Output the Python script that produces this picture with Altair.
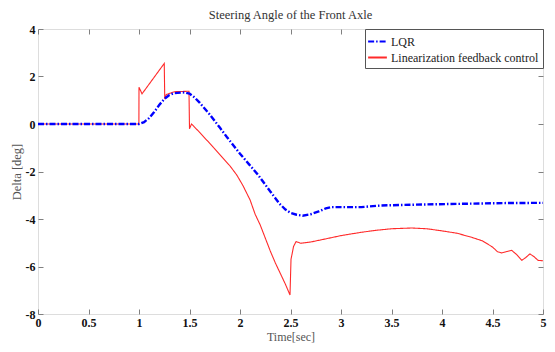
import altair as alt
import pandas as pd

# ---- data ----
series_names = ["LQR", "Linearization feedback control"]

lqr_t = [0, 1.0, 1.05, 1.1, 1.15, 1.2, 1.25, 1.3, 1.35, 1.45, 1.5, 1.55, 1.6, 1.7, 1.8, 1.87,
         2.0, 2.09, 2.18, 2.3, 2.39, 2.45, 2.5, 2.56, 2.62, 2.7, 2.78, 2.85, 2.9, 3.0, 3.2,
         3.4, 3.8, 4.2, 4.6, 5.0]
lqr_v = [0, 0, 0.08, 0.25, 0.5, 0.8, 1.05, 1.22, 1.3, 1.33, 1.28, 1.12, 0.9, 0.4, -0.15, -0.55,
         -1.25, -1.7, -2.15, -2.84, -3.35, -3.6, -3.74, -3.82, -3.86, -3.8, -3.68, -3.55, -3.5,
         -3.5, -3.5, -3.43, -3.39, -3.36, -3.33, -3.32]

lfc_t = [0, 0.999, 1.0, 1.03, 1.25, 1.255, 1.27, 1.35, 1.495, 1.5, 1.52, 1.6, 1.74, 1.9, 1.97,
         2.03, 2.1, 2.15, 2.2, 2.25, 2.3, 2.35, 2.4, 2.45, 2.495, 2.505, 2.53, 2.555, 2.6, 2.7,
         2.8, 3.0, 3.2, 3.34, 3.5, 3.7, 3.85, 4.0, 4.15, 4.3, 4.4, 4.5, 4.55, 4.59, 4.64, 4.69,
         4.74, 4.79, 4.83, 4.87, 4.91, 4.95, 5.0]
lfc_v = [0, 0, 1.55, 1.27, 2.55, 1.05, 1.24, 1.36, 1.38, -0.2, 0.0, -0.35, -1.0, -1.76, -2.16,
         -2.6, -3.2, -3.8, -4.25, -4.8, -5.35, -5.85, -6.3, -6.75, -7.2, -5.7, -5.16, -4.95,
         -5.02, -4.97, -4.88, -4.7, -4.56, -4.48, -4.41, -4.38, -4.41, -4.5, -4.6, -4.78, -4.92,
         -5.18, -5.38, -5.43, -5.37, -5.32, -5.5, -5.74, -5.62, -5.47, -5.58, -5.74, -5.76]

x_ticks = [0, 0.5, 1, 1.5, 2, 2.5, 3, 3.5, 4, 4.5, 5]
y_ticks = [-8, -6, -4, -2, 0, 2, 4]

df_lqr = pd.DataFrame({"t": lqr_t, "v": lqr_v, "series": series_names[0], "i": range(len(lqr_t))})
df_lfc = pd.DataFrame({"t": lfc_t, "v": lfc_v, "series": series_names[1], "i": range(len(lfc_t))})

FONT = "Liberation Serif"
GRAY = "#808080"

x_scale = alt.Scale(domain=[0, 5], nice=False, zero=False)
y_scale = alt.Scale(domain=[-8, 4], nice=False, zero=False)
color_scale = alt.Scale(domain=series_names, range=["#0000ff", "#ff2a2a"])
dash_scale = alt.Scale(domain=series_names, range=[[6, 2, 1.5, 2], [1, 0]])

legend = alt.Legend(title=None, orient="top-right", offset=0, symbolType="M-1.25,0H1.25",
                    symbolSize=225, symbolStrokeWidth=1.8, labelFont=FONT, labelFontSize=12,
                    labelColor="#222", labelOffset=5, padding=4, rowPadding=1,
                    strokeColor="#555", fillColor="white")

common_axis = dict(offset=-5, tickSize=5, domain=False, grid=False, tickColor=GRAY,
                   tickWidth=1, labelOverlap=False, labelFlush=False)

bottom_axis = alt.Axis(orient="bottom", values=x_ticks, labelExpr="'' + datum.value",
                       labelFont=FONT, labelFontSize=12, labelFontWeight="bold",
                       labelColor="#111", labelPadding=3, title="Time[sec]",
                       titleFont=FONT, titleFontSize=12, titleFontWeight="normal",
                       titleColor="#555", titlePadding=3, **common_axis)
left_axis = alt.Axis(orient="left", values=y_ticks, labelExpr="'' + datum.value",
                     labelFont=FONT, labelFontSize=12, labelFontWeight="bold",
                     labelColor="#111", labelPadding=3, title="Delta [deg]",
                     titleFont=FONT, titleFontSize=12.5, titleFontWeight="normal",
                     titleColor="#555", titlePadding=2, **common_axis)
top_axis = alt.Axis(orient="top", values=x_ticks, labels=False, title=None, **common_axis)
right_axis = alt.Axis(orient="right", values=y_ticks, labels=False, title=None, **common_axis)

red = alt.Chart(df_lfc).mark_line(strokeWidth=1.1).encode(
    x=alt.X("t:Q", scale=x_scale, axis=bottom_axis),
    y=alt.Y("v:Q", scale=y_scale, axis=left_axis),
    color=alt.Color("series:N", scale=color_scale, legend=legend),
    strokeDash=alt.StrokeDash("series:N", scale=dash_scale, legend=legend),
    order="i:Q",
)

blue = alt.Chart(df_lqr).mark_line(strokeWidth=2.4).encode(
    x=alt.X("t:Q", scale=x_scale, axis=top_axis),
    y=alt.Y("v:Q", scale=y_scale, axis=right_axis),
    color=alt.Color("series:N", scale=color_scale, legend=legend),
    strokeDash=alt.StrokeDash("series:N", scale=dash_scale, legend=legend),
    order="i:Q",
)

chart = alt.layer(red, blue).resolve_axis(x="independent", y="independent").properties(
    width=505, height=285,
    title=alt.TitleParams("Steering Angle of the Front Axle", font=FONT, fontSize=12.5,
                          fontWeight="normal", color="#333", offset=2, anchor="middle"),
    autosize=alt.AutoSizeParams(type="none"),
    padding={"left": 30, "top": 21, "right": 4, "bottom": 30},
).configure_view(stroke=GRAY, strokeWidth=2).configure(background="white")

chart.save("out.html", embed_options={"renderer": "svg", "actions": False})
